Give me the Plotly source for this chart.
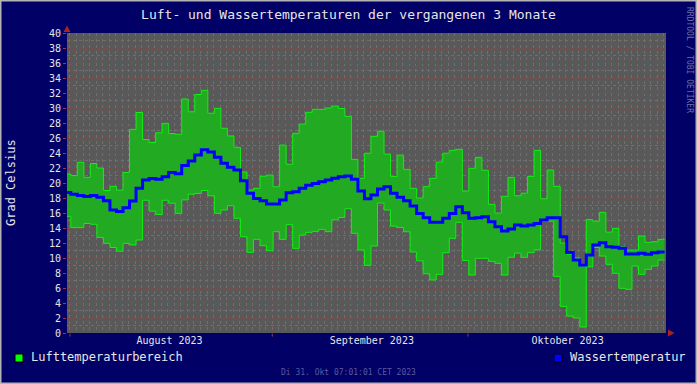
import plotly.graph_objects as go
import pandas as pd

# ---- data (daily values) ----
t_max = [21.2, 21.0, 22.75, 20.75, 22.6, 22.0, 19.0, 19.55, 19.05, 21.4,
         27.15, 29.4, 25.8, 25.4, 26.7, 27.95, 26.6, 26.5, 31.2, 29.5,
         31.8, 32.35, 29.3, 29.95, 27.3, 26.27, 24.75, 21.46, 19.07, 19.29,
         20.9, 21.05, 19.5, 25.05, 22.5, 26.62, 27.85, 29.42, 29.82, 29.82,
         30.0, 30.25, 29.93, 28.88, 23.15, 20.62, 23.97, 26.22, 26.9, 23.85,
         20.86, 23.71, 21.82, 19.29, 18.0, 19.51, 20.62, 22.78, 23.97, 24.35,
         24.49, 18.93, 21.96, 23.42, 21.7, 17.15, 16.0, 18.22, 20.75, 18.3,
         18.65, 20.88, 24.35, 17.9, 21.73, 19.55, 12.0, 10.5, 10.0, 9.2,
         15.12, 14.9, 16.09, 13.45, 13.95, 11.5, 11.06, 11.06, 12.93, 12.09,
         12.18, 12.49]
t_min = [15.55, 14.05, 14.05, 14.6, 14.5, 12.75, 11.95, 11.4, 10.9, 11.95,
         11.75, 12.4, 17.7, 16.25, 15.8, 17.7, 17.3, 15.95, 17.75, 18.5,
         18.6, 19.0, 18.3, 15.95, 16.4, 16.97, 15.29, 12.84, 10.75, 12.49,
         11.64, 10.97, 13.51, 12.49, 14.45, 11.29, 13.05, 13.42, 13.55, 13.82,
         13.51, 15.1, 15.4, 16.57, 13.29, 11.06, 9.02, 11.6, 17.33, 16.4,
         14.25, 14.07, 13.5, 10.8, 9.62, 7.9, 7.07, 7.82, 10.71, 12.62,
         14.76, 9.67, 7.73, 9.96, 9.96, 9.55, 9.29, 7.73, 10.1, 10.65,
         10.09, 10.71, 11.1, 14.9, 14.9, 7.55, 3.55, 2.25, 2.0, 0.8,
         8.84, 11.4, 10.26, 9.16, 7.96, 5.96, 5.82, 8.93, 7.82, 8.49,
         8.93, 9.73]
wasser = [18.75, 18.5, 18.35, 18.2, 18.35, 18.1, 17.65, 16.4, 16.2, 16.7,
          17.6, 19.3, 20.4, 20.6, 20.5, 20.85, 21.4, 21.25, 22.35, 22.95,
          23.75, 24.45, 24.15, 23.42, 22.62, 22.09, 21.73, 20.31, 18.62, 17.95,
          17.64, 17.2, 17.2, 17.73, 18.71, 18.84, 19.29, 19.69, 19.95, 20.18,
          20.4, 20.62, 20.84, 20.93, 20.49, 18.93, 17.9, 18.4, 19.2, 19.51,
          18.62, 18.1, 17.64, 16.93, 15.95, 15.38, 14.76, 14.76, 15.29, 15.95,
          16.84, 16.04, 15.29, 15.38, 15.51, 14.84, 14.18, 13.6, 13.87, 14.4,
          14.27, 14.4, 14.6, 15.07, 15.37, 15.37, 12.84, 10.75, 9.73, 9.07,
          10.4, 11.73, 12.04, 11.5, 11.42, 11.29, 10.53, 10.53, 10.62, 10.49,
          10.71, 10.8]

y_ticks = list(range(0, 41, 2))
month_starts = ["2023-08-01", "2023-09-01", "2023-10-01"]
month_label_pos = ["2023-08-16 06:00", "2023-09-16 06:00", "2023-10-16 06:00"]
month_labels = ["August 2023", "September 2023", "Oktober 2023"]
x_range = ["2023-07-31 13:00", "2023-10-31 08:10"]

title = "Luft- und Wassertemperaturen der vergangenen 3 Monate"
y_title = "Grad Celsius"
legend_air = "Lufttemperaturbereich"
legend_water = "Wassertemperatur"
stamp = "Di 31. Okt 07:01:01 CET 2023"
credit = "RRDTOOL / TOBI OETIKER"

# ---- styling ----
W, H = 697, 384
L, R, T, B = 67, 31, 33, 51
PW, PH = W - L - R, H - T - B
CANVAS = "#000066"
BACK = "#595959"
GRID = "#6f6f6f"
MGRID = "#8a4444"
FILL = "#22aa22"
EDGE = "#11ee11"
BLUE = "#0000ff"
TXT = "#e6e6e6"
FONT = "DejaVu Sans Mono"


def px(x):
    return (x - L) / PW


def py(y):
    return (H - B - y) / PH


steps = pd.date_range("2023-07-31 03:00", periods=len(t_max) + 1, freq="D")
ext = lambda a: list(a) + [a[-1]]

fig = go.Figure()
fig.add_trace(go.Scatter(x=steps, y=ext(t_min), mode="lines", name="Tiefstwert",
                         line=dict(shape="hv", color=EDGE, width=1),
                         showlegend=False, hoverinfo="skip"))
fig.add_trace(go.Scatter(x=steps, y=ext(t_max), mode="lines", name=legend_air,
                         line=dict(shape="hv", color=EDGE, width=1),
                         fill="tonexty", fillcolor=FILL,
                         showlegend=False))
fig.add_trace(go.Scatter(x=steps, y=ext(wasser), mode="lines", name=legend_water,
                         line=dict(shape="hv", color=BLUE, width=3),
                         showlegend=False))
# invisible helper trace so the label axis is drawn
fig.add_trace(go.Scatter(x=x_range, y=[None, None], xaxis="x2", mode="lines",
                         showlegend=False, hoverinfo="skip"))

shapes = []
for m in month_starts:
    shapes.append(dict(type="line", xref="x", yref="paper", x0=m, x1=m,
                       y0=-0.012, y1=1, layer="between",
                       line=dict(color=MGRID, width=1, dash="dot")))
# axis arrows
shapes.append(dict(type="path", xref="paper", yref="paper",
                   path=f"M {px(63.5)},{py(32)} L {px(70.5)},{py(32)} L {px(67)},{py(25.5)} Z",
                   fillcolor="#aa2222", line=dict(color="#aa2222", width=0)))
shapes.append(dict(type="path", xref="paper", yref="paper",
                   path=f"M {px(668)},{py(329.5)} L {px(668)},{py(336.5)} L {px(674.5)},{py(333)} Z",
                   fillcolor="#aa2222", line=dict(color="#aa2222", width=0)))
# legend boxes
shapes.append(dict(type="rect", xref="paper", yref="paper",
                   x0=px(15), x1=px(23), y0=py(362), y1=py(354),
                   fillcolor="#00ff00", line=dict(color="#000000", width=1)))
shapes.append(dict(type="rect", xref="paper", yref="paper",
                   x0=px(554), x1=px(562), y0=py(362), y1=py(354),
                   fillcolor="#0000ff", line=dict(color="#000000", width=1)))
# canvas frame
shapes.append(dict(type="rect", xref="paper", yref="paper",
                   x0=px(0), x1=px(W), y0=py(H), y1=py(0),
                   line=dict(color="#b4b4b4", width=3)))

annotations = [
    dict(text=y_title, xref="paper", yref="paper", x=px(11), y=0.5,
         textangle=-90, showarrow=False, xanchor="center", yanchor="middle",
         font=dict(family=FONT, size=12, color=TXT)),
    dict(text=legend_air, xref="paper", yref="paper", x=px(29), y=py(357.5),
         showarrow=False, xanchor="left", yanchor="middle",
         font=dict(family=FONT, size=12, color=TXT)),
    dict(text=legend_water, xref="paper", yref="paper", x=px(568), y=py(357.5),
         showarrow=False, xanchor="left", yanchor="middle",
         font=dict(family=FONT, size=12, color=TXT)),
    dict(text=stamp, xref="paper", yref="paper", x=px(348.5), y=py(372.5),
         showarrow=False, xanchor="center", yanchor="middle",
         font=dict(family=FONT, size=8, color="#5a5aa0")),
    dict(text=credit, xref="paper", yref="paper", x=px(689), y=py(60),
         textangle=90, showarrow=False, xanchor="center", yanchor="middle",
         font=dict(family=FONT, size=8, color="#6e6ea8")),
]

fig.update_layout(
    width=W, height=H,
    margin=dict(l=L, r=R, t=T, b=B, pad=0),
    paper_bgcolor=CANVAS, plot_bgcolor=BACK,
    font=dict(family=FONT, color=TXT),
    title=dict(text=title, x=0.5, xref="container", xanchor="center",
               y=1 - 14 / H, yref="container", yanchor="middle",
               font=dict(family=FONT, size=13, color=TXT)),
    showlegend=False,
    shapes=shapes,
    annotations=annotations,
    xaxis=dict(type="date", range=x_range, tickmode="linear",
               tick0="2023-07-31", dtick=86400000, showticklabels=False,
               ticks="", showgrid=True, gridcolor=GRID, griddash="dot",
               gridwidth=1, zeroline=False, showline=False, fixedrange=True),
    xaxis2=dict(type="date", overlaying="x", matches="x", anchor="y", side="bottom",
                tickmode="array", tickvals=month_label_pos, ticktext=month_labels,
                showgrid=False, ticks="", zeroline=False, showline=False,
                tickfont=dict(family=FONT, size=10, color=TXT)),
    yaxis=dict(range=[0, 40], tickmode="array", tickvals=y_ticks,
               showgrid=True, gridcolor=MGRID, griddash="dot", gridwidth=1,
               minor=dict(dtick=1, showgrid=True, gridcolor=GRID, griddash="dot",
                          gridwidth=1, ticks=""),
               ticks="outside", ticklen=3, tickcolor="#aa3333",
               zeroline=False, showline=False, fixedrange=True,
               tickfont=dict(family=FONT, size=10, color=TXT)),
)

fig.write_html("out.html",
               config={"displayModeBar": False},
               post_script="document.body.style.margin='0';document.body.style.overflow='hidden';")
